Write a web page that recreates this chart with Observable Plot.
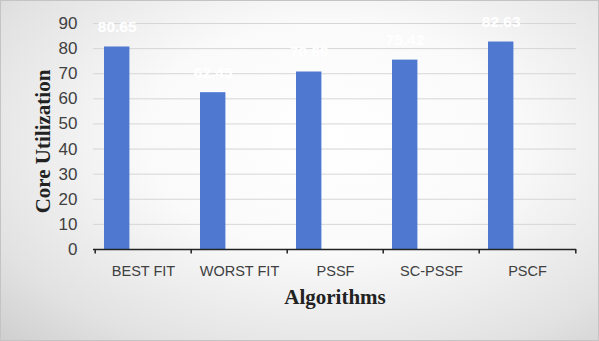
<!DOCTYPE html>
<html>
<head>
<meta charset="utf-8">
<script src="https://cdn.jsdelivr.net/npm/d3@7"></script>
<script src="https://cdn.jsdelivr.net/npm/@observablehq/plot@0.6"></script>
<style>
  html, body { margin: 0; padding: 0; }
  #chart {
    width: 599px; height: 341px; box-sizing: border-box;
    border: 1px solid #c4c4c4;
    background: radial-gradient(ellipse at 55% 40%, #ffffff 0%, #fafafa 40%, #e2e2e2 80%, #cfcfcf 100%);
    overflow: hidden;
  }
  #chart svg { display: block; }
</style>
</head>
<body>
<div id="chart"></div>
<script>
const categories = ["BEST FIT", "WORST FIT", "PSSF", "SC-PSSF", "PSCF"];
const values = [80.65, 62.45, 70.69, 75.42, 82.63];
const yTicks = [0, 10, 20, 30, 40, 50, 60, 70, 80, 90];
const yTitle = "Core Utilization";
const xTitle = "Algorithms";

const data = categories.map((c, i) => ({cat: c, val: values[i]}));

const W = 597, H = 339;
const mL = 92, mR = 22, mT = 22, mB = 91;
const step = (W - mL - mR) / categories.length;

const chart = Plot.plot({
  width: W, height: H,
  marginTop: mT, marginBottom: mB, marginLeft: mL, marginRight: mR,
  style: {background: "transparent", fontFamily: "'Liberation Sans', Arial, sans-serif"},
  x: {domain: categories, padding: 0, axis: null},
  y: {domain: [0, 90], axis: null},
  marks: [
    Plot.gridY(yTicks, {stroke: "#d6d6d6", strokeOpacity: 1, strokeWidth: 1}),
    Plot.barY(data, {x: "cat", y: "val", insetLeft: 9, insetRight: step - 35, fill: "#4f79d1"}),
    Plot.ruleY([0], {stroke: "#222", strokeWidth: 1.5}),
    Plot.ruleX(categories, {x: d => d, dx: -step / 2, y1: 0, y2: -1.8, stroke: "#222", strokeWidth: 1.5}),
    Plot.ruleX([categories[categories.length - 1]], {x: d => d, dx: step / 2, y1: 0, y2: -1.8, stroke: "#222", strokeWidth: 1.5}),
    Plot.axisY(yTicks, {tickSize: 0, tickPadding: 16, fontSize: 17, fill: "#404040", label: null}),
    Plot.axisX(categories, {tickSize: 0, tickPadding: 16, fontSize: 14.5, fill: "#404040", label: null}),
    Plot.text(data, {x: "cat", y: "val", text: d => d.val.toFixed(2), dx: (9 + 35) / 2 - step / 2, dy: -20,
      fill: "white", fontWeight: "bold", fontSize: 15.5}),
    Plot.text([yTitle], {frameAnchor: "left", textAnchor: "middle", dx: -50, dy: 5, rotate: -90,
      fontFamily: "'Liberation Serif', 'Times New Roman', serif",
      fontWeight: "bold", fontSize: 21, fill: "#222"}),
    Plot.text([xTitle], {frameAnchor: "bottom", dy: 54, fontFamily: "'Liberation Serif', 'Times New Roman', serif",
      fontWeight: "bold", fontSize: 21, fill: "#222"})
  ]
});
document.getElementById("chart").appendChild(chart);
</script>
</body>
</html>
